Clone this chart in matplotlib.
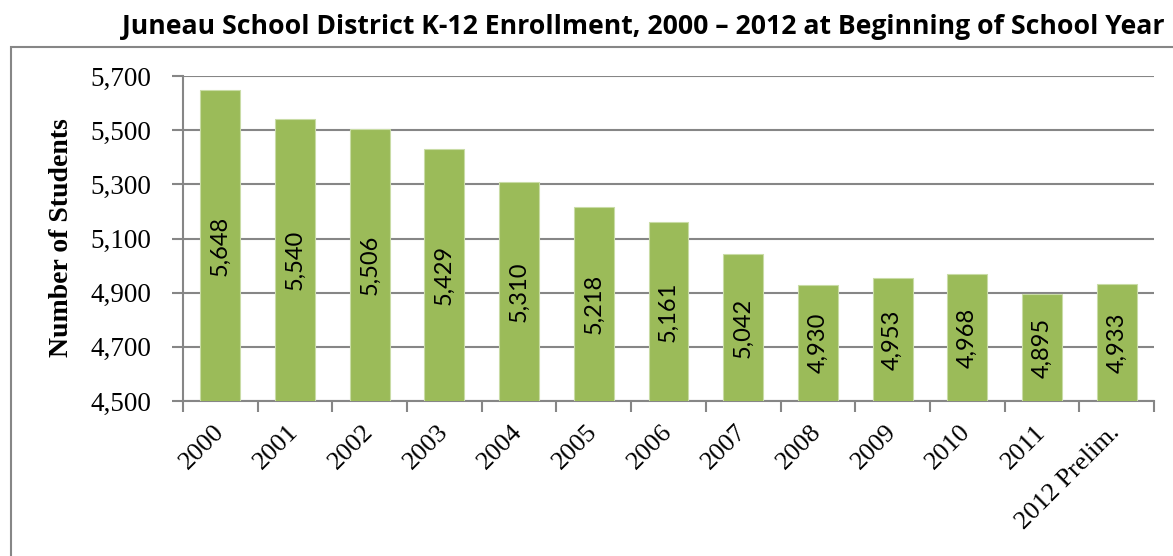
import matplotlib
matplotlib.use("Agg")
import matplotlib.pyplot as plt
import numpy as np
from matplotlib.patches import Rectangle

# enrollment at beginning of school year
years = ["2000", "2001", "2002", "2003", "2004", "2005", "2006",
         "2007", "2008", "2009", "2010", "2011", "2012 Prelim."]
students = [5648, 5540, 5506, 5429, 5310, 5218, 5161,
            5042, 4930, 4953, 4968, 4895, 4933]
y_ticks = [4500, 4700, 4900, 5100, 5300, 5500, 5700]

green = "#9BBB59"
grey = "#868686"
serif = ["Liberation Serif", "DejaVu Serif"]
sans = ["Lato", "DejaVu Sans"]

W, H = 1173, 556
fig = plt.figure(figsize=(W / 100, H / 100), dpi=100)
ax = fig.add_axes([183 / W, 1 - 401 / H, (1154 - 183) / W, (401 - 76) / H])

# outer chart border (runs off right / bottom edge)
fig.patches.append(Rectangle((11 / W, -0.05), 1.1, 1 - 47 / H + 0.05,
                             transform=fig.transFigure, fill=False,
                             edgecolor=grey, linewidth=1.5, clip_on=False))

x = np.arange(len(years))
bars = ax.bar(x, students, width=0.535, color=green, edgecolor="#C9DCA6",
              linewidth=0.8, zorder=3)

for b, v in zip(bars, students):
    ax.text(b.get_x() + b.get_width() / 2, (4500 + v) / 2, f"{v:,}",
            rotation=90, ha="center", va="center", fontsize=17,
            family=sans, color="black", zorder=4)

ax.set_xlim(-0.5, len(years) - 0.5)
ax.set_ylim(4500, 5700)
ax.set_yticks(y_ticks)
ax.set_yticklabels([f"{t:,}" for t in y_ticks], family=serif, fontsize=19.5)
ax.yaxis.grid(True, color=grey, linewidth=1.5, zorder=0)
ax.tick_params(axis="y", length=8, width=1.5, color=grey, pad=15)

ax.set_xticks(x)
ax.set_xticklabels(years, rotation=45, ha="right", va="center",
                   rotation_mode="anchor", family=serif, fontsize=19)
ax.tick_params(axis="x", which="major", length=0, pad=20)
ax.set_xticks(np.arange(len(years) + 1) - 0.5, minor=True)
ax.tick_params(axis="x", which="minor", length=8, width=1.5, color=grey)

for s in ["top", "right"]:
    ax.spines[s].set_visible(False)
for s in ["left", "bottom"]:
    ax.spines[s].set_color(grey)
    ax.spines[s].set_linewidth(1.5)

fig.text(62 / W, 1 - 238 / H, "Number of Students", rotation=90,
         ha="center", va="center", family=serif, fontweight="bold",
         fontsize=20)

fig.text(1165 / W, 1 - 27 / H,
         "Juneau School District K-12 Enrollment, 2000 \u2013 2012 at Beginning of School Year",
         ha="right", va="center", fontsize=19.2, fontweight="bold",
         family=["Open Sans", "DejaVu Sans"])

fig.savefig("out.png", dpi=100)
